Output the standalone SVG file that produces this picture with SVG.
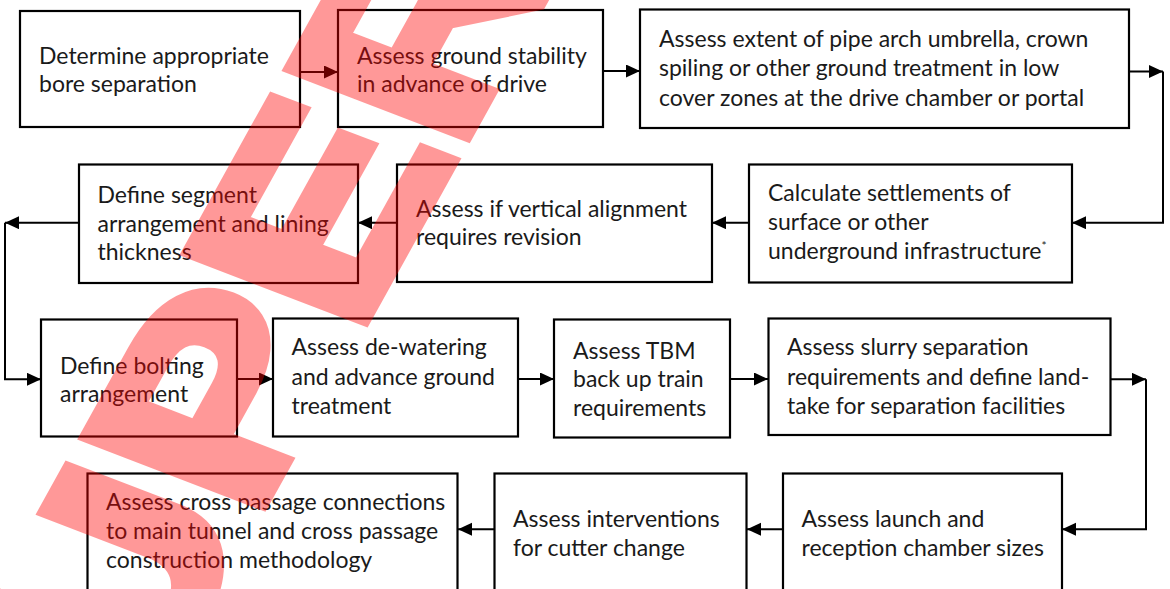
<svg xmlns="http://www.w3.org/2000/svg" width="1170" height="589" viewBox="0 0 1170 589">
<style>
.box{fill:#fff;stroke:#000;stroke-width:2.2}
.t{font-family:Lato,"Liberation Sans",sans-serif;font-size:23px;fill:#1a1a1a}
.c{fill:none;stroke:#000;stroke-width:2}
.wm{font-family:"Liberation Sans",Arial,sans-serif;font-weight:bold;font-size:270px;fill:#ff0000;stroke:#ff0000;stroke-width:14;stroke-linejoin:miter}
</style>
<defs>
<marker id="ah" markerUnits="userSpaceOnUse" markerWidth="16" markerHeight="14" refX="14" refY="6.5" orient="auto">
<path d="M0,0 L14,6.5 L0,13 Z" fill="#000"/>
</marker>
</defs>
<rect width="1170" height="589" fill="#fff"/>

<g id="connectors">
<path class="c" d="M300,72 H338" marker-end="url(#ah)"/>
<path class="c" d="M603,71 H640" marker-end="url(#ah)"/>
<path class="c" d="M1129,71.5 H1163" marker-end="url(#ah)"/>
<path class="c" d="M1163,71.5 V222.7 H1072" marker-end="url(#ah)"/>
<path class="c" d="M749,222.7 H712" marker-end="url(#ah)"/>
<path class="c" d="M397,222.7 H358" marker-end="url(#ah)"/>
<path class="c" d="M79,222.7 H5" marker-end="url(#ah)"/>
<path class="c" d="M5,222.7 V379.3 H41" marker-end="url(#ah)"/>
<path class="c" d="M237,379 H273" marker-end="url(#ah)"/>
<path class="c" d="M518,379 H554" marker-end="url(#ah)"/>
<path class="c" d="M730,379 H768" marker-end="url(#ah)"/>
<path class="c" d="M1111,379.3 H1146" marker-end="url(#ah)"/>
<path class="c" d="M1146,379.3 V529.3 H1062" marker-end="url(#ah)"/>
<path class="c" d="M783,529.3 H747" marker-end="url(#ah)"/>
<path class="c" d="M494,529.3 H458" marker-end="url(#ah)"/>
</g>

<g id="n1"><rect class="box" x="20" y="11" width="280" height="116"/>
<text class="t" x="39" y="63.5">Determine appropriate</text><text class="t" x="39" y="92">bore separation</text></g>

<g id="n2"><rect class="box" x="338" y="10" width="265" height="117"/>
<text class="t" x="357" y="63.5">Assess ground stability</text><text class="t" x="357" y="92">in advance of drive</text></g>

<g id="n3"><rect class="box" x="640" y="9.5" width="489" height="118.5"/>
<text class="t" x="659" y="47">Assess extent of pipe arch umbrella, crown</text>
<text class="t" x="659" y="76">spiling or other ground treatment in low</text>
<text class="t" x="659" y="105.5">cover zones at the drive chamber or portal</text></g>

<g id="n4"><rect class="box" x="749" y="164.5" width="323" height="118"/>
<text class="t" x="768" y="200.5">Calculate settlements of</text>
<text class="t" x="768" y="229.5">surface or other</text>
<text class="t" x="768" y="258.5">underground infrastructure<tspan font-size="12" dy="-9">*</tspan></text></g>

<g id="n5"><rect class="box" x="397" y="164.5" width="315" height="117.5"/>
<text class="t" x="416" y="216.5">Assess if vertical alignment</text>
<text class="t" x="416" y="245">requires revision</text></g>

<g id="n6"><rect class="box" x="79" y="164.5" width="279" height="118.5"/>
<text class="t" x="97.5" y="202.5">Define segment</text>
<text class="t" x="97.5" y="231.5">arrangement and lining</text>
<text class="t" x="97.5" y="260">thickness</text></g>

<g id="n7"><rect class="box" x="41" y="319.5" width="196" height="117"/>
<text class="t" x="60" y="373.5">Define bolting</text>
<text class="t" x="60" y="402">arrangement</text></g>

<g id="n8"><rect class="box" x="273" y="318.5" width="245" height="118"/>
<text class="t" x="291.5" y="355">Assess de-watering</text>
<text class="t" x="291.5" y="385">and advance ground</text>
<text class="t" x="291.5" y="414">treatment</text></g>

<g id="n9"><rect class="box" x="554" y="319.5" width="176" height="118"/>
<text class="t" x="573" y="358.5">Assess TBM</text>
<text class="t" x="573" y="387">back up train</text>
<text class="t" x="573" y="416">requirements</text></g>

<g id="n10"><rect class="box" x="768.5" y="318.5" width="342" height="116.5"/>
<text class="t" x="787" y="355">Assess slurry separation</text>
<text class="t" x="787" y="385">requirements and define land-</text>
<text class="t" x="787" y="414">take for separation facilities</text></g>

<g id="n11"><rect class="box" x="783" y="473.5" width="279" height="130"/>
<text class="t" x="801.5" y="527">Assess launch and</text>
<text class="t" x="801.5" y="555.5">reception chamber sizes</text></g>

<g id="n12"><rect class="box" x="494.5" y="473.5" width="252" height="130"/>
<text class="t" x="513" y="527">Assess interventions</text>
<text class="t" x="513" y="555.5">for cutter change</text></g>

<g id="n13"><rect class="box" x="87.5" y="473.5" width="370" height="130"/>
<text class="t" x="106" y="510">Assess cross passage connections</text>
<text class="t" x="106" y="538.5">to main tunnel and cross passage</text>
<text class="t" x="106" y="567.5">construction methodology</text></g>

<g id="watermark" opacity="0.4" transform="translate(366,316) rotate(-61) skewX(8) scale(1.17,1)">
<text class="wm" x="-575" y="0">SUPERSEDED</text>
</g>
</svg>
